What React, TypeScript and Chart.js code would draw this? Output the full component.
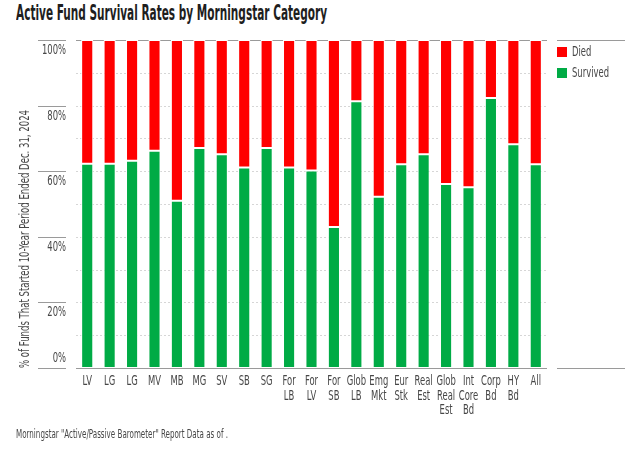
import React, { useEffect, useLayoutEffect, useRef } from "react";
import { Chart, registerables } from "chart.js";

Chart.register(...registerables);

// ---------- data ----------
const categories: string[][] = [
  ["LV"], ["LG"], ["LG"], ["MV"], ["MB"], ["MG"], ["SV"], ["SB"], ["SG"],
  ["For", "LB"], ["For", "LV"], ["For", "SB"], ["Glob", "LB"], ["Emg", "Mkt"],
  ["Eur", "Stk"], ["Real", "Est"], ["Glob", "Real", "Est"], ["Int", "Core", "Bd"],
  ["Corp", "Bd"], ["HY", "Bd"], ["All"],
];
const survived = [62.3, 62.3, 63.2, 66.2, 51.0, 67.1, 65.2, 61.1, 67.1, 61.1, 60.2, 43.0, 81.3, 52.2, 62.1, 65.2, 56.1, 55.1, 82.3, 68.2, 62.1];
const died = [37.7, 37.7, 36.8, 33.8, 49.0, 32.9, 34.8, 38.9, 32.9, 38.9, 39.8, 57.0, 18.7, 47.8, 37.9, 34.8, 43.9, 44.9, 17.7, 31.8, 37.9];
const yTickValues = [0, 20, 40, 60, 80, 100];
const yTickLabels = ["0%", "20%", "40%", "60%", "80%", "100%"];
const yGridValues = [10, 20, 30, 40, 50, 60, 70, 80, 90];
const legendOrder = ["Died", "Survived"];

const TITLE = "Active Fund Survival Rates by Morningstar Category";
const Y_TITLE = "% of Funds That Started 10-Year Period Ended Dec. 31, 2024";
const FOOTER = 'Morningstar "Active/Passive Barometer" Report Data as of .';

const RED = "#FF0000";
const GREEN = "#00AB45";
const TEXT = "#474747";
const LINE = "#9a9a9a";
const FONT = "'Liberation Sans Narrow', 'DejaVu Sans Condensed', 'Arial Narrow', 'Liberation Sans', sans-serif";

function condensedText(ctx: any, text: string, x: number, y: number, sx: number) {
  ctx.save();
  ctx.translate(x, y);
  ctx.scale(sx, 1);
  ctx.fillText(text, 0, 0);
  ctx.restore();
}

const decorPlugin = {
  id: "decor",
  beforeDatasetsDraw(chart: any) {
    const { ctx, chartArea } = chart;
    const y = chart.scales.y;
    ctx.save();
    ctx.lineWidth = 1;
    ctx.strokeStyle = "#d6d6d6";
    ctx.setLineDash([2, 2]);
    for (const v of yGridValues) {
      const py = Math.round(y.getPixelForValue(v)) + 0.5;
      ctx.beginPath();
      ctx.moveTo(chartArea.left, py);
      ctx.lineTo(chartArea.right, py);
      ctx.stroke();
    }
    ctx.setLineDash([]);
    ctx.strokeStyle = LINE;
    const top = Math.round(y.getPixelForValue(100)) + 0.5;
    ctx.beginPath();
    ctx.moveTo(chartArea.left, top);
    ctx.lineTo(chartArea.right, top);
    ctx.stroke();
    ctx.restore();
  },
  afterDatasetsDraw(chart: any) {
    const { ctx, chartArea } = chart;
    const y = chart.scales.y;
    const x = chart.scales.x;
    ctx.save();
    ctx.lineWidth = 1;
    ctx.strokeStyle = LINE;
    ctx.fillStyle = TEXT;
    ctx.font = `13.5px ${FONT}`;
    const sx = 37 / ctx.measureText("Survived").width;

    // baseline
    const base = Math.round(y.getPixelForValue(0)) + 0.5;
    ctx.beginPath();
    ctx.moveTo(chartArea.left, base);
    ctx.lineTo(chartArea.right, base);
    ctx.stroke();

    // x labels
    ctx.textAlign = "center";
    ctx.textBaseline = "middle";
    categories.forEach((lines, i) => {
      const px = x.getPixelForValue(i);
      lines.forEach((t, j) => {
        condensedText(ctx, t, px, base + 13 + j * 14.5, sx);
      });
    });

    // y tick marks + labels
    const tickRight = chartArea.left - 10;
    const tickLeft = tickRight - 28;
    ctx.textAlign = "right";
    yTickValues.forEach((v, i) => {
      const py = Math.round(y.getPixelForValue(v)) + 0.5;
      ctx.beginPath();
      ctx.moveTo(tickLeft, py);
      ctx.lineTo(tickRight, py);
      ctx.stroke();
      if (v === 0) {
        ctx.textBaseline = "bottom";
        condensedText(ctx, yTickLabels[i], tickRight, py - 3, sx);
      } else {
        ctx.textBaseline = "top";
        condensedText(ctx, yTickLabels[i], tickRight, py + 3, sx);
      }
    });

    // y axis title
    ctx.save();
    ctx.font = `13.5px ${FONT}`;
    ctx.fillStyle = TEXT;
    ctx.translate(25, chartArea.bottom);
    ctx.rotate(-Math.PI / 2);
    const w = ctx.measureText(Y_TITLE).width;
    ctx.scale(258 / w, 1);
    ctx.textAlign = "left";
    ctx.textBaseline = "middle";
    ctx.fillText(Y_TITLE, 0, 0);
    ctx.restore();

    // legend
    const lx = chartArea.right + 10;
    ctx.beginPath();
    ctx.moveTo(lx, Math.round(chartArea.top) + 0.5);
    ctx.lineTo(lx + 68, Math.round(chartArea.top) + 0.5);
    ctx.moveTo(lx, base);
    ctx.lineTo(lx + 68, base);
    ctx.stroke();
    ctx.textAlign = "left";
    ctx.textBaseline = "middle";
    legendOrder.forEach((name, i) => {
      const ds = chart.data.datasets.find((d: any) => d.label === name);
      const by = chartArea.top + 7 + i * 21;
      ctx.fillStyle = ds.backgroundColor;
      ctx.fillRect(lx, by, 10, 10);
      ctx.fillStyle = TEXT;
      condensedText(ctx, name, lx + 15, by + 5.5, sx);
    });
    ctx.restore();
  },
};

export default function App() {
  const canvasRef = useRef<HTMLCanvasElement | null>(null);
  const titleRef = useRef<HTMLSpanElement | null>(null);
  const footRef = useRef<HTMLSpanElement | null>(null);

  useLayoutEffect(() => {
    const fit = (el: HTMLSpanElement | null, target: number) => {
      if (!el) return;
      const w = el.getBoundingClientRect().width;
      if (w > 0) el.style.transform = `scaleX(${target / w})`;
    };
    fit(titleRef.current, 311);
    fit(footRef.current, 212);
  }, []);

  useEffect(() => {
    if (!canvasRef.current) return;
    const chart = new Chart(canvasRef.current, {
      type: "bar",
      data: {
        labels: categories,
        datasets: [
          {
            label: "Survived",
            data: survived,
            backgroundColor: GREEN,
            borderColor: "#ffffff",
            borderWidth: 1,
            borderSkipped: false,
          },
          {
            label: "Died",
            data: died,
            backgroundColor: RED,
            borderColor: "#ffffff",
            borderWidth: 1,
            borderSkipped: false,
          },
        ],
      },
      options: {
        animation: false,
        responsive: true,
        maintainAspectRatio: false,
        layout: { padding: { left: 76, right: 97, top: 40, bottom: 38 } },
        datasets: { bar: { categoryPercentage: 0.54, barPercentage: 1 } },
        plugins: { legend: { display: false }, tooltip: { enabled: false }, title: { display: false } },
        scales: {
          x: {
            stacked: true,
            grid: { display: false, drawTicks: false },
            border: { display: false },
            ticks: { display: false },
            afterFit: (s: any) => {
              s.height = 50;
            },
          },
          y: { stacked: true, min: 0, max: 100, display: false },
        },
      },
      plugins: [decorPlugin],
    });
    return () => chart.destroy();
  }, []);

  return (
    <div style={{ position: "absolute", left: 0, top: 0, width: 644, height: 456, background: "#fff", overflow: "hidden" }}>
      <div style={{ position: "absolute", left: 16, top: 3, whiteSpace: "nowrap", lineHeight: "21px" }}>
        <span
          ref={titleRef}
          style={{
            display: "inline-block",
            transformOrigin: "0 0",
            fontFamily: FONT,
            fontWeight: "bold",
            fontSize: 21,
            color: "#1e1e1e",
          }}
        >
          {TITLE}
        </span>
      </div>
      <div style={{ position: "absolute", left: 0, top: 0, width: 644, height: 456 }}>
        <canvas ref={canvasRef} />
      </div>
      <div style={{ position: "absolute", left: 16, top: 427, whiteSpace: "nowrap", lineHeight: "11px" }}>
        <span
          ref={footRef}
          style={{ display: "inline-block", transformOrigin: "0 0", fontFamily: FONT, fontSize: 11.5, color: TEXT }}
        >
          {FOOTER}
        </span>
      </div>
    </div>
  );
}
